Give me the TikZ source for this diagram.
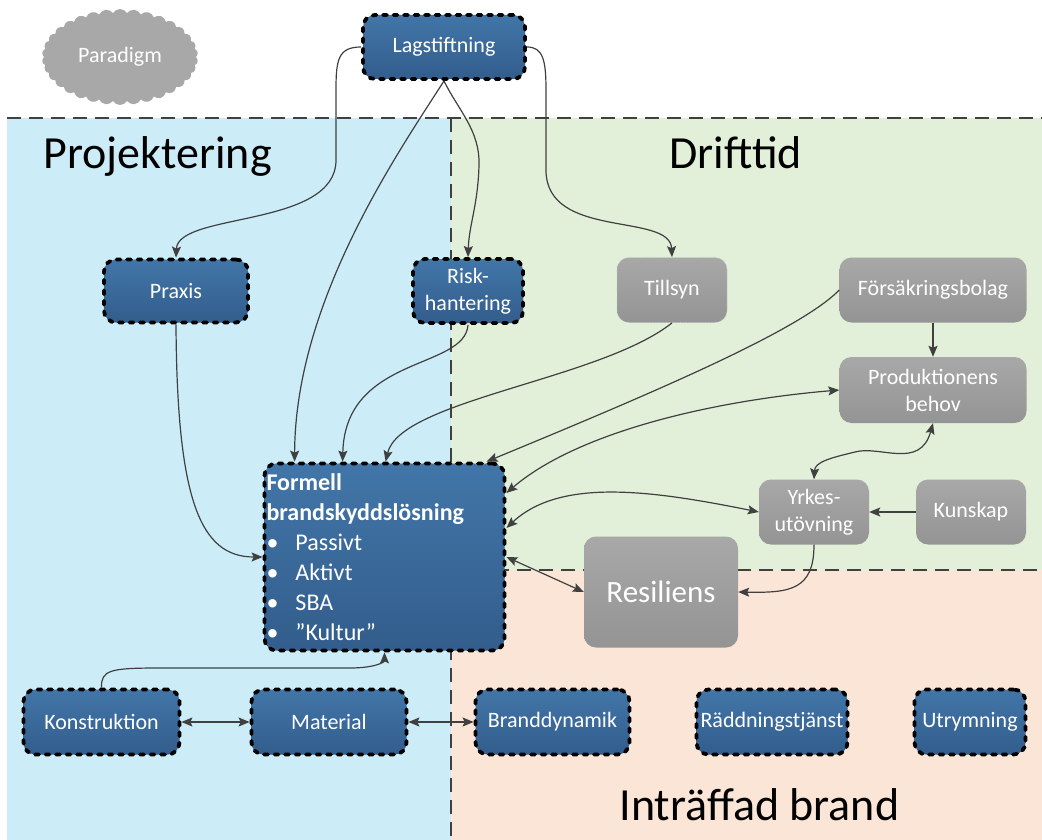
\documentclass[tikz,border=0pt]{standalone}
\usepackage{fontspec}
\setmainfont{Carlito}
\usetikzlibrary{arrows.meta,shapes.symbols}
\definecolor{projblue}{RGB}{204,236,248}
\definecolor{driftgreen}{RGB}{226,239,217}
\definecolor{brandpeach}{RGB}{251,229,214}
\definecolor{boxtop}{RGB}{66,118,168}
\definecolor{boxbot}{RGB}{50,93,140}
\definecolor{greytop}{RGB}{168,168,168}
\definecolor{greybot}{RGB}{148,148,148}
\definecolor{linegray}{RGB}{64,64,64}
\tikzset{
  actor/.style={rounded corners=12pt, top color=boxtop, bottom color=boxbot,
    draw=black, line width=3.8pt, dash pattern=on 4pt off 6.5pt, line cap=round,
    text=white, align=center, inner sep=2pt, font=\fontsize{22}{27}\selectfont},
  factor/.style={rounded corners=12pt, top color=greytop, bottom color=greybot,
    draw=none, text=white, align=center, inner sep=2pt, font=\fontsize{22}{27}\selectfont},
  zone/.style={draw=linegray, line width=2pt, dash pattern=on 14pt off 8pt},
  title/.style={anchor=base west, font=\fontsize{46}{50}\selectfont},
  link/.style={draw=linegray, line width=1.2pt, -{Stealth[length=11pt,width=9pt,inset=2pt]}},
  both/.style={link, {Stealth[length=11pt,width=9pt,inset=2pt]}-{Stealth[length=11pt,width=9pt,inset=2pt]}}
}
\begin{document}
\begin{tikzpicture}[x=1pt, y=-1pt]
  \useasboundingbox (0,0) rectangle (1042,840);
  \fill[projblue] (7,118) rectangle (451,840);
  \fill[driftgreen] (451,118) rectangle (1042,570);
  \fill[brandpeach] (451,570) rectangle (1042,840);
  \draw[zone] (7,118) -- (1042,118);
  \draw[zone] (451,118) -- (451,840);
  \draw[zone] (451,570) -- (1042,570);

  \node[title] (proj) at (40,168) {Projektering};
  \node[title] (drift) at (666,168) {Drifttid};
  \node[title] (intr) at (616,820) {Inträffad brand};

  \node[cloud, cloud puffs=34, cloud puff arc=120, aspect=1.6, fill=greytop,
    minimum width=156pt, minimum height=96pt, text=white,
    font=\fontsize{22}{26}\selectfont] (par) at (120,57) {Paradigm};

  \node[actor, minimum width=162pt, minimum height=64pt] (lag) at (444,47) {Lagstiftning};
  \node[actor, minimum width=144pt, minimum height=63pt] (praxis) at (176,291) {Praxis};
  \node[actor, minimum width=110pt, minimum height=64pt] (risk) at (468,291) {Risk-\\hantering};
  \node[factor, draw=gray!45, line width=0.8pt, dotted, minimum width=110pt, minimum height=65pt] (tillsyn) at (672,290) {Tillsyn};
  \node[factor, minimum width=187pt, minimum height=65pt] (fors) at (933,290) {Försäkringsbolag};
  \node[factor, minimum width=187pt, minimum height=66pt] (prod) at (933,390) {Produktionens\\behov};
  \node[factor, minimum width=110pt, minimum height=65pt] (yrkes) at (814,512) {Yrkes-\\utövning};
  \node[factor, minimum width=110pt, minimum height=65pt] (kunskap) at (971,512) {Kunskap};
  \node[factor, minimum width=154pt, minimum height=111pt, font=\fontsize{31}{35}\selectfont] (resil) at (661,592) {Resiliens};
  \node[actor, minimum width=240pt, minimum height=187pt, text width=236pt, align=left,
    font=\fontsize{24}{30}\selectfont] (formell) at (384.5,557)
    {\textbf{Formell}\\ \textbf{brandskyddslösning}\\
     \makebox[29pt][l]{\textbullet}Passivt\\
     \makebox[29pt][l]{\textbullet}Aktivt\\
     \makebox[29pt][l]{\textbullet}SBA\\
     \makebox[29pt][l]{\textbullet}”Kultur”};
  \node[actor, minimum width=156pt, minimum height=65pt] (konstr) at (101.5,722) {Konstruktion};
  \node[actor, minimum width=155pt, minimum height=65pt] (material) at (329,722) {Material};
  \node[actor, minimum width=154pt, minimum height=65pt] (brand) at (552.5,722) {Branddynamik};
  \node[actor, minimum width=151pt, minimum height=65pt] (radd) at (772,722) {Räddningstjänst};
  \node[actor, minimum width=111pt, minimum height=65pt] (utrym) at (970,722) {Utrymning};

  \draw[link] (lag.west) .. controls (338,47) and (336,60) .. (336,90) -- (336,160)
    .. controls (336,228) and (178,212) .. (praxis.north);
  \draw[link] (lag.east) .. controls (543,47) and (546,60) .. (546,90) -- (546,170)
    .. controls (546,240) and (670,212) .. (tillsyn.north);
  \draw[link] (lag.south) .. controls (458,110) and (480,130) .. (479,165)
    .. controls (478,205) and (469,225) .. (risk.north);
  \draw[link] (lag.south) .. controls (400,150) and (295,300) .. ([xshift=32pt]formell.north west);
  \draw[link] (praxis.south) .. controls (177,500) and (200,557) .. (formell.west);
  \draw[link] (risk.south) .. controls (465,370) and (345,355) .. ([xshift=80pt]formell.north west);
  \draw[link] (tillsyn.south) .. controls (600,380) and (400,400) .. ([xshift=123pt]formell.north west);
  \draw[link] (fors.west) .. controls (800,330) and (660,390) .. ([xshift=224pt]formell.north west);
  \draw[both] (prod.west) .. controls (720,400) and (580,430) .. ([yshift=64pt]formell.east);
  \draw[both] (yrkes.west) .. controls (650,490) and (560,478) .. ([yshift=29pt]formell.east);
  \draw[both] (formell.east) -- (resil.west);
  \draw[both] (prod.south) .. controls (920,470) and (880,445) .. (855,452)
    .. controls (830,458) and (815,462) .. (yrkes.north);
  \draw[link] (kunskap.west) -- (yrkes.east);
  \draw[link] (yrkes.south) .. controls (814,590) and (790,593) .. (resil.east);
  \draw[link] (fors.south) -- (prod.north);
  \draw[link] (konstr.north) .. controls (101,670) and (110,668) .. (160,668) -- (350,668)
    .. controls (375,668) and (384.5,662) .. (formell.south);
  \draw[both] (konstr.east) -- (material.west);
  \draw[both] (material.east) -- (brand.west);
\end{tikzpicture}
\end{document}
